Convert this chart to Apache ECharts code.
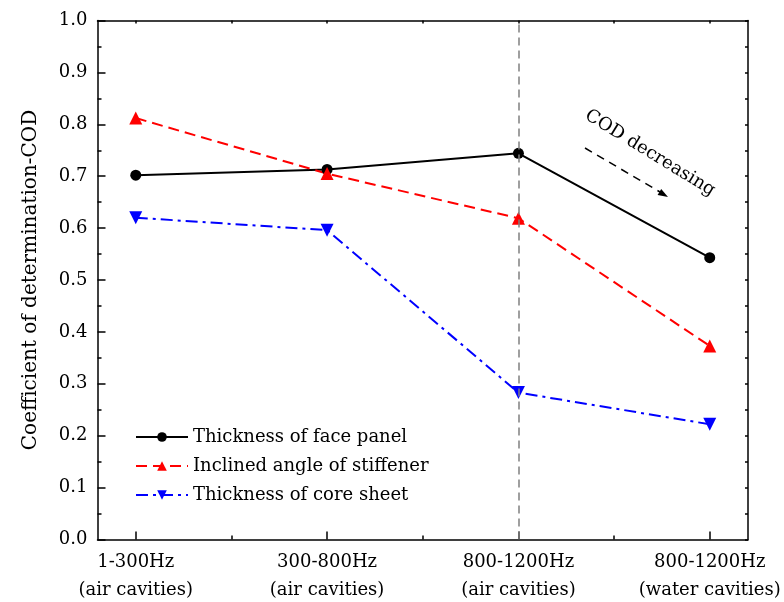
<!DOCTYPE html>
<html>
<head>
<meta charset="utf-8">
<script src="https://cdn.jsdelivr.net/npm/echarts@6/dist/echarts.min.js"></script>
<style>html,body{margin:0;padding:0;background:#fff;}#c{width:784px;height:602px;}</style>
</head>
<body>
<div id="c"></div>
<script>
const categories = ['1-300Hz\n(air cavities)', '300-800Hz\n(air cavities)', '800-1200Hz\n(air cavities)', '800-1200Hz\n(water cavities)'];
const seriesNames = ['Thickness of face panel', 'Inclined angle of stiffener', 'Thickness of core sheet'];
const facePanel = [0.702, 0.713, 0.744, 0.543];
const inclinedAngle = [0.812, 0.705, 0.619, 0.373];
const coreSheet = [0.620, 0.596, 0.283, 0.222];
const yTicks = [0, 0.1, 0.2, 0.3, 0.4, 0.5, 0.6, 0.7, 0.8, 0.9, 1.0];
const xMajor = [0, 1, 2, 3];
const xMinor = [0.5, 1.5, 2.5];
const dividerCategory = 2;

const serif = 'DejaVu Serif';
const toPairs = arr => arr.map((v, i) => [i, v]);

const chart = echarts.init(document.getElementById('c'), null, {renderer: 'canvas'});
const axisLineStyle = {color: '#000', width: 1.5};
const tickStyle = {color: '#000', width: 1.5};
chart.setOption({
  animation: false,
  backgroundColor: '#fff',
  grid: {left: 97.5, right: 36, top: 20.5, bottom: 62.5, containLabel: false, outerBoundsMode: 'none'},
  legend: {
    orient: 'vertical', left: 135, top: 427, padding: 0,
    itemWidth: 52, itemHeight: 12, itemGap: 9,
    textStyle: {fontFamily: serif, fontSize: 18, color: '#000', lineHeight: 20},
    data: seriesNames
  },
  xAxis: [
    {type: 'value', position: 'bottom', min: -0.2, max: 3.2,
     axisLine: {show: true, onZero: false, lineStyle: axisLineStyle},
     axisTick: {show: true, inside: true, length: 8, lineStyle: tickStyle, customValues: xMajor},
     splitLine: {show: false},
     axisLabel: {show: true, margin: 9, customValues: xMajor,
       fontFamily: serif, fontSize: 18, color: '#000', lineHeight: 28,
       formatter: v => categories[Math.round(v)]}},
    {type: 'value', position: 'bottom', min: -0.2, max: 3.2,
     axisLine: {show: false, onZero: false}, splitLine: {show: false}, axisLabel: {show: false},
     axisTick: {show: true, inside: true, length: 4, lineStyle: tickStyle, customValues: xMinor}},
    {type: 'value', position: 'top', min: -0.2, max: 3.2,
     axisLine: {show: true, onZero: false, lineStyle: axisLineStyle}, splitLine: {show: false}, axisLabel: {show: false},
     axisTick: {show: true, inside: true, length: 3, lineStyle: tickStyle, customValues: xMajor.concat(xMinor)}}
  ],
  yAxis: [
    {type: 'value', position: 'left', min: yTicks[0], max: yTicks[yTicks.length - 1], interval: 0.1,
     axisLine: {show: true, onZero: false, lineStyle: axisLineStyle},
     axisTick: {show: true, inside: true, length: 8, lineStyle: tickStyle},
     minorTick: {show: true, splitNumber: 2, length: 4, lineStyle: tickStyle},
     splitLine: {show: false},
     axisLabel: {margin: 10, fontFamily: serif, fontSize: 18, color: '#000', formatter: v => v.toFixed(1)},
     name: 'Coefficient of determination-COD', nameLocation: 'middle', nameGap: 57,
     nameTextStyle: {fontFamily: serif, fontSize: 20, color: '#000'}},
    {type: 'value', position: 'right', min: yTicks[0], max: yTicks[yTicks.length - 1], interval: 0.1,
     axisLine: {show: true, onZero: false, lineStyle: axisLineStyle},
     axisTick: {show: true, inside: true, length: 3, lineStyle: tickStyle},
     minorTick: {show: true, splitNumber: 2, length: 3, lineStyle: tickStyle},
     splitLine: {show: false}, axisLabel: {show: false}}
  ],
  series: [
    {name: seriesNames[0], type: 'line', xAxisIndex: 0, yAxisIndex: 0, data: toPairs(facePanel),
     symbol: 'circle', symbolSize: 11, color: '#000',
     lineStyle: {color: '#000', width: 2, type: 'solid'}, itemStyle: {color: '#000'}, z: 3,
     markLine: {silent: true, symbol: ['none', 'none'], label: {show: false},
       lineStyle: {color: '#808080', width: 1.5, type: [8, 5]},
       data: [{xAxis: dividerCategory}]}},
    {name: seriesNames[1], type: 'line', xAxisIndex: 0, yAxisIndex: 0, data: toPairs(inclinedAngle),
     symbol: 'triangle', symbolSize: 13, color: '#ff0000',
     lineStyle: {color: '#ff0000', width: 2, type: [11, 6]}, itemStyle: {color: '#ff0000'}, z: 3},
    {name: seriesNames[2], type: 'line', xAxisIndex: 0, yAxisIndex: 0, data: toPairs(coreSheet),
     symbol: 'triangle', symbolRotate: 180, symbolSize: 13, color: '#0000ff',
     lineStyle: {color: '#0000ff', width: 2, type: [12, 5, 3, 5]}, itemStyle: {color: '#0000ff'}, z: 3}
  ],
  graphic: [
    {type: 'text', x: 650, y: 153, rotation: -0.55,
     style: {text: 'COD decreasing', fontFamily: serif, fontSize: 18, fill: '#000', align: 'center', verticalAlign: 'middle'}},
    {type: 'line', shape: {x1: 585, y1: 148, x2: 660, y2: 192},
     style: {stroke: '#000', lineWidth: 1.5, lineDash: [8, 6]}},
    {type: 'polygon', shape: {points: [[668, 197], [657.6, 194.9], [661.2, 188.9]]},
     style: {fill: '#000'}}
  ]
});
</script>
</body>
</html>
